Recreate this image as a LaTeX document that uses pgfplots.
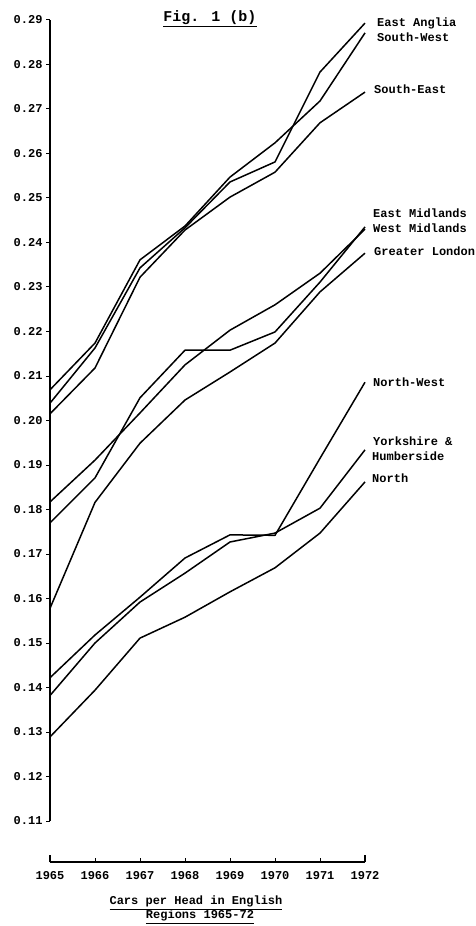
\documentclass[border=0pt]{standalone}
\usepackage{fontspec}
\setmainfont{Liberation Mono}
\usepackage{pgfplots}
\usepackage{pgfplotstable}
\pgfplotsset{compat=1.18}
\pgfplotstableread{
year SW EA SE EM WM GL NW YH NO
1965 0.2069 0.2039 0.2015 0.1770 0.1817 0.1578 0.1422 0.1382 0.1289
1966 0.2174 0.2163 0.2118 0.1871 0.1911 0.1816 0.1518 0.1500 0.1394
1967 0.2361 0.2343 0.2322 0.2051 0.2017 0.1949 0.1603 0.1592 0.1511
1968 0.2437 0.2433 0.2428 0.2158 0.2125 0.2046 0.1691 0.1657 0.1558
1969 0.2547 0.2536 0.2502 0.2158 0.2203 0.2109 0.1743 0.1727 0.1615
1970 0.2624 0.2581 0.2558 0.2199 0.2260 0.2174 0.1742 0.1747 0.1669
1971 0.2718 0.2783 0.2669 0.2311 0.2331 0.2289 0.1915 0.1803 0.1747
1972 0.2871 0.2893 0.2738 0.2435 0.2430 0.2376 0.2086 0.1934 0.1862
}\datatable
\begin{document}
\begin{tikzpicture}[dl/.style={black, solid, line width=1.5pt, line join=round, mark=none}]
\useasboundingbox (0pt,0pt) rectangle (476pt,926pt);
\begin{axis}[
  at={(50pt,64pt)}, anchor=south west,
  scale only axis, width=315pt, height=842pt,
  xmin=1965, xmax=1972, ymin=0.10079, ymax=0.29,
  axis x line*=bottom, axis y line*=left,
  y axis line style={draw=none},
  x axis line style={line width=1.3pt},
  xtick={1965,1966,1967,1968,1969,1970,1971,1972},
  xticklabels={1965,1966,1967,1968,1969,1970,1971,1972},
  ytick={0.11,0.12,0.13,0.14,0.15,0.16,0.17,0.18,0.19,0.20,0.21,0.22,0.23,0.24,0.25,0.26,0.27,0.28,0.29},
  yticklabels={0.11,0.12,0.13,0.14,0.15,0.16,0.17,0.18,0.19,0.20,0.21,0.22,0.23,0.24,0.25,0.26,0.27,0.28,0.29},
  xtick align=inside, ytick align=outside,
  major tick length=4pt,
  tick style={black, line width=1pt},
  tick label style={font=\fontsize{12}{14}\selectfont\bfseries},
  xticklabel style={yshift=-6pt},
  clip=false,
]
\addplot[dl] table[x=year,y=SW]{\datatable};
\addplot[dl] table[x=year,y=EA]{\datatable};
\addplot[dl] table[x=year,y=SE]{\datatable};
\addplot[dl] table[x=year,y=EM]{\datatable};
\addplot[dl] table[x=year,y=WM]{\datatable};
\addplot[dl] table[x=year,y=GL]{\datatable};
\addplot[dl] table[x=year,y=NW]{\datatable};
\addplot[dl] table[x=year,y=YH]{\datatable};
\addplot[dl] table[x=year,y=NO]{\datatable};
\draw[line width=1.3pt] (axis cs:1965,0.11) -- (axis cs:1965,0.29);
\draw[line width=1.3pt] (axis cs:1965,0.10079) -- ++(0pt,7pt);
\draw[line width=1.3pt] (axis cs:1972,0.10079) -- ++(0pt,7pt);
\end{axis}
\begin{scope}[every node/.style={font=\fontsize{12}{14}\selectfont\bfseries, inner sep=0pt}]
\node[anchor=base west] at (377pt,899.5pt) {East Anglia};
\node[anchor=base west] at (377pt,884.5pt) {South-West};
\node[anchor=base west] at (374pt,832.5pt) {South-East};
\node[anchor=base west] at (373pt,708.5pt) {East Midlands};
\node[anchor=base west] at (373pt,693.5pt) {West Midlands};
\node[anchor=base west] at (374pt,670.5pt) {Greater London};
\node[anchor=base west] at (373pt,539.5pt) {North-West};
\node[anchor=base west] at (373pt,480.5pt) {Yorkshire \&};
\node[anchor=base west] at (372pt,465.5pt) {Humberside};
\node[anchor=base west] at (372pt,443.5pt) {North};
\node[anchor=base] at (196pt,21pt) {\underline{Cars per Head in English}};
\node[anchor=base] at (200pt,7pt) {\underline{Regions 1965-72}};
\end{scope}
\node[anchor=base, inner sep=0pt, font=\fontsize{15}{18}\selectfont\bfseries] at (210pt,904pt) {\underline{Fig. 1 (b)}};
\end{tikzpicture}
\end{document}
